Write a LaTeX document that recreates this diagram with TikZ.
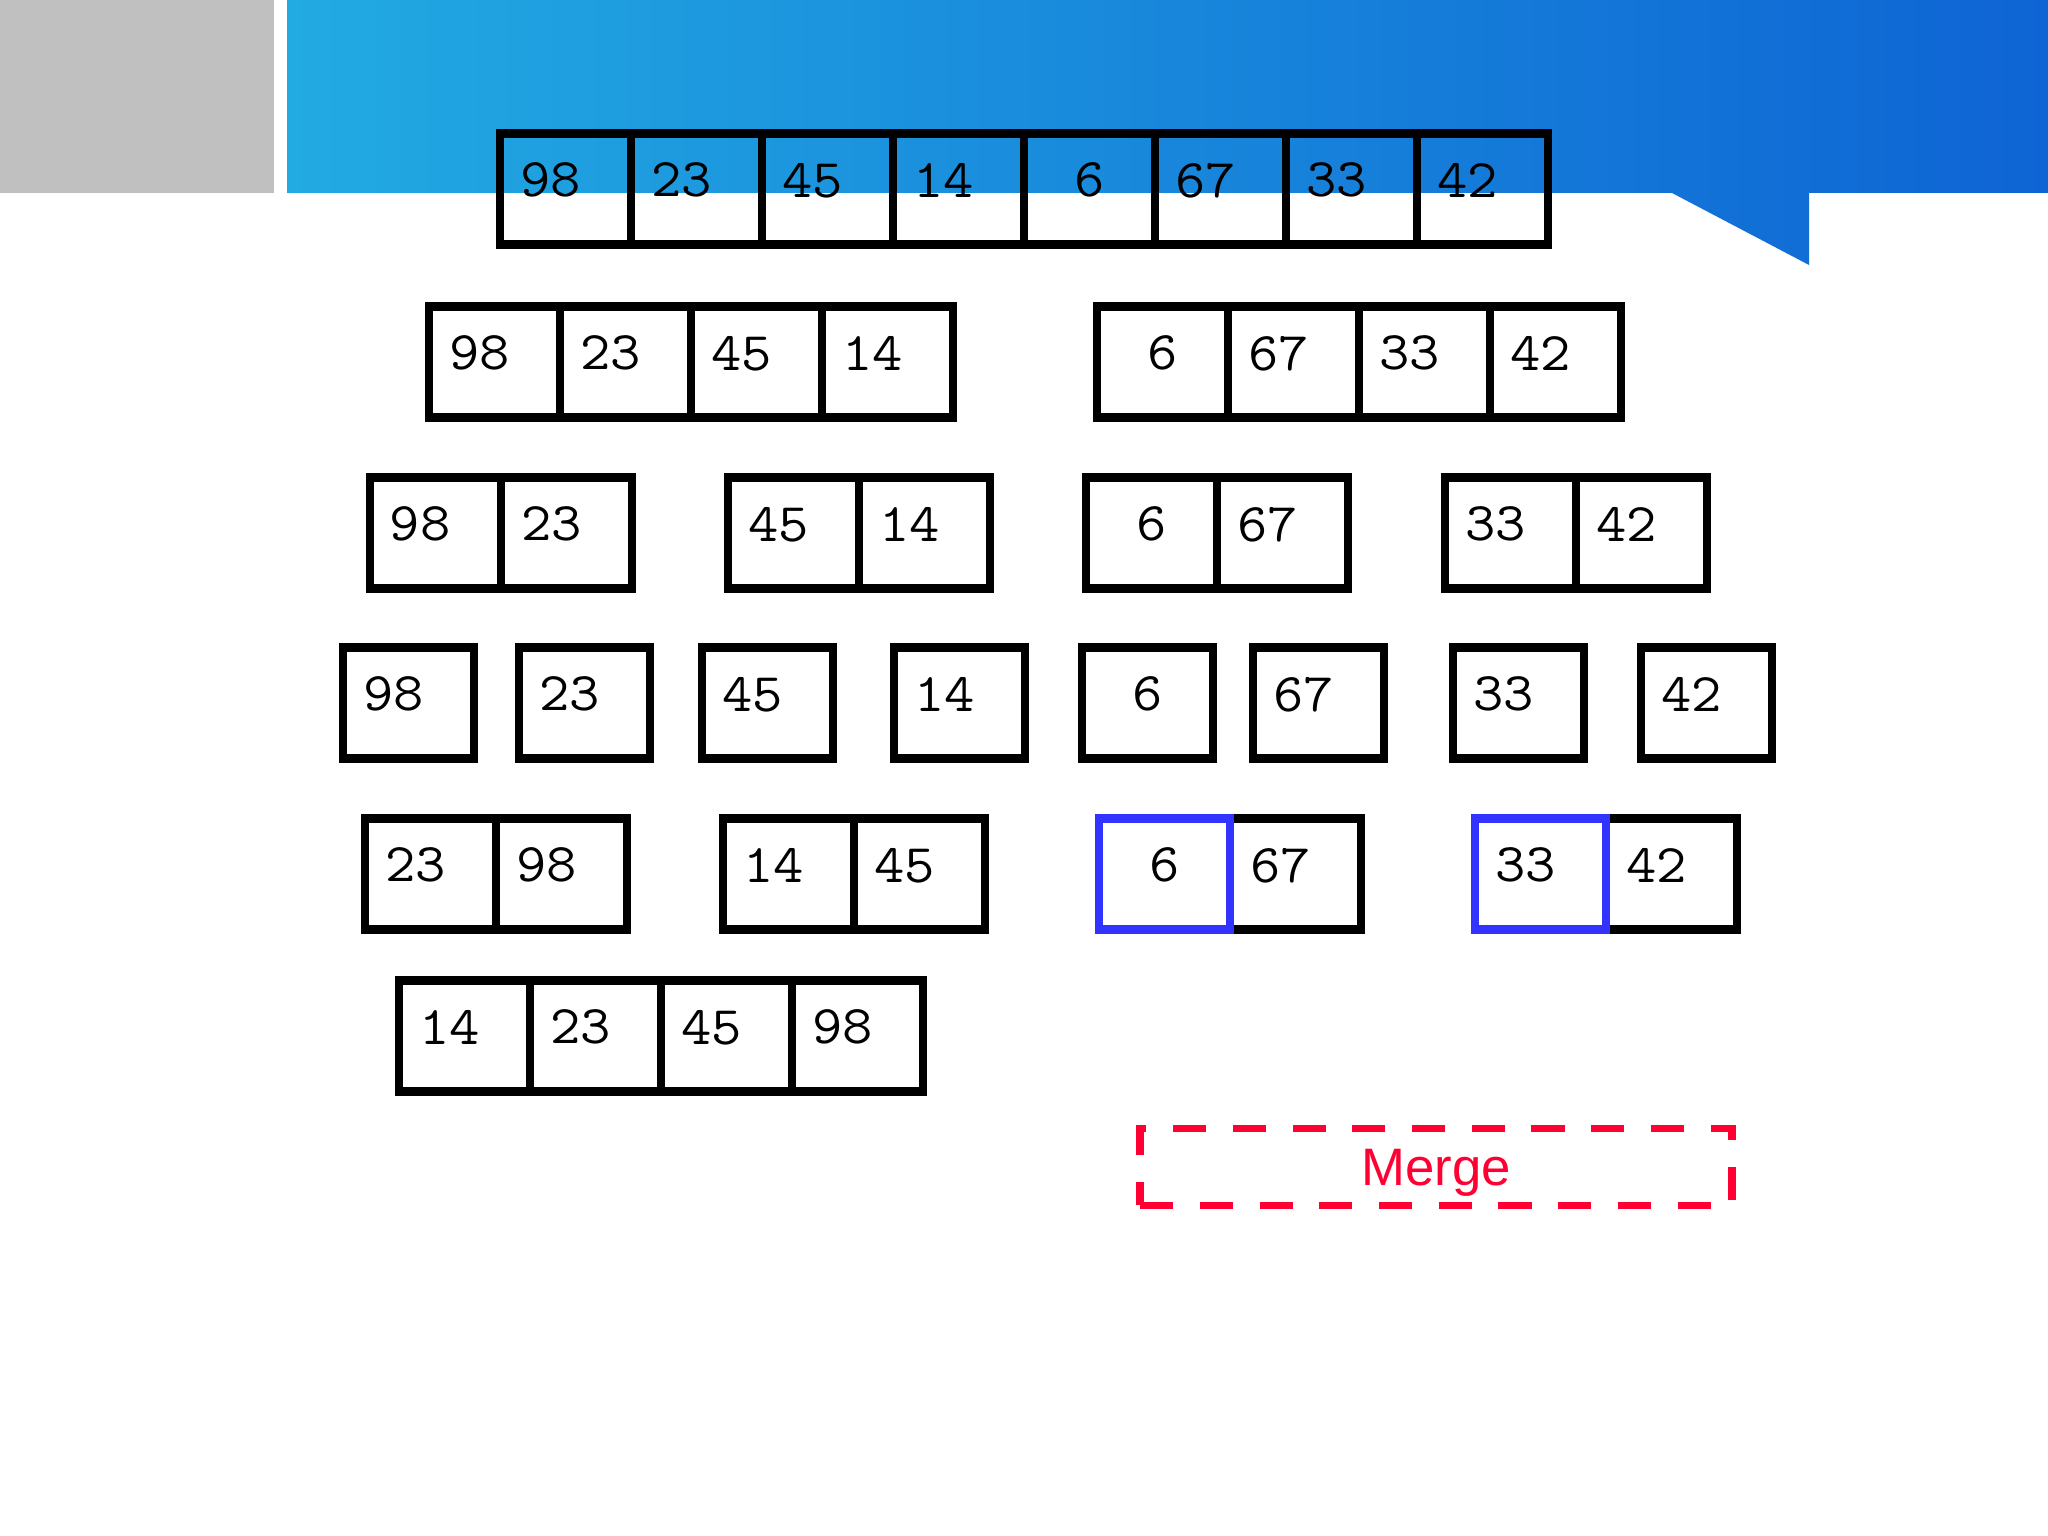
\documentclass[tikz,border=0pt]{standalone}
\usepackage{fontspec}
\usepackage{tikz}
\usetikzlibrary{positioning}
\newfontfamily\cellfont[FakeStretch=1.08]{Latin Modern Mono}
\newfontfamily\labelfont{Liberation Sans}
\definecolor{bannerlight}{RGB}{34,170,226}
\definecolor{bannermid}{RGB}{16,156,224}
\definecolor{bannerdark}{RGB}{14,100,212}
\definecolor{sidegray}{RGB}{192,192,192}
\definecolor{pickblue}{RGB}{51,51,255}
\definecolor{mergered}{RGB}{255,0,51}

\begin{document}
\begin{tikzpicture}[
        cell/.style={draw=black,line width=2.35pt,outer sep=0pt,minimum width=1.31cm,minimum height=1.11cm,
            inner xsep=0.2cm,inner ysep=0pt,text width=0.91cm,align=left,text depth=0.18cm,
            font=\cellfont\fontsize{15.5}{18}\selectfont},
        picked/.style={cell,draw=pickblue},
        mergebox/.style={draw=mergered,line width=2.1pt,dash pattern=on 9.4pt off 7.6pt,minimum width=5.92cm,
            minimum height=0.77cm,text=mergered,text depth=0pt,font=\labelfont\fontsize{15}{18}\selectfont}
    ]
        \useasboundingbox (0,0) rectangle (20.48,15.36);
        \fill[white] (0,0) rectangle (20.48,15.36);
        \fill[sidegray] (0,13.43) rectangle (2.74,15.36);
        \shade[left color=bannerlight,middle color=bannermid,right color=bannerdark] (2.87,13.43) -- (16.72,13.43)
            -- (18.09,12.71) -- (18.09,13.43) -- (20.48,13.43) -- (20.48,15.36) -- (2.87,15.36) -- cycle;

        \node[cell,anchor=west] (a1) at (5.00,13.47) {98};
        \node[cell,right=0pt of a1] (a2) {23};
        \node[cell,right=0pt of a2] (a3) {45};
        \node[cell,right=0pt of a3] (a4) {14};
        \node[cell,right=0pt of a4] (a5) {\hphantom{0}6};
        \node[cell,right=0pt of a5] (a6) {67};
        \node[cell,right=0pt of a6] (a7) {33};
        \node[cell,right=0pt of a7] (a8) {42};

        \node[cell,anchor=west] (b1) at (4.29,11.74) {98};
        \node[cell,right=0pt of b1] (b2) {23};
        \node[cell,right=0pt of b2] (b3) {45};
        \node[cell,right=0pt of b3] (b4) {14};
        \node[cell,anchor=west] (b5) at (10.97,11.74) {\hphantom{0}6};
        \node[cell,right=0pt of b5] (b6) {67};
        \node[cell,right=0pt of b6] (b7) {33};
        \node[cell,right=0pt of b7] (b8) {42};

        \node[cell,anchor=west] (c1) at (3.70,10.03) {98};
        \node[cell,right=0pt of c1] (c2) {23};
        \node[cell,anchor=west] (c3) at (7.28,10.03) {45};
        \node[cell,right=0pt of c3] (c4) {14};
        \node[cell,anchor=west] (c5) at (10.86,10.03) {\hphantom{0}6};
        \node[cell,right=0pt of c5] (c6) {67};
        \node[cell,anchor=west] (c7) at (14.45,10.03) {33};
        \node[cell,right=0pt of c7] (c8) {42};

        \node[cell,anchor=west] (d1) at (3.43,8.33) {98};
        \node[cell,anchor=west] (d2) at (5.19,8.33) {23};
        \node[cell,anchor=west] (d3) at (7.02,8.33) {45};
        \node[cell,anchor=west] (d4) at (8.94,8.33) {14};
        \node[cell,anchor=west] (d5) at (10.82,8.33) {\hphantom{0}6};
        \node[cell,anchor=west] (d6) at (12.53,8.33) {67};
        \node[cell,anchor=west] (d7) at (14.53,8.33) {33};
        \node[cell,anchor=west] (d8) at (16.41,8.33) {42};

        \node[cell,anchor=west] (e1) at (3.65,6.62) {23};
        \node[cell,right=0pt of e1] (e2) {98};
        \node[cell,anchor=west] (e3) at (7.23,6.62) {14};
        \node[cell,right=0pt of e3] (e4) {45};
        \node[cell,anchor=west] (e6) at (12.30,6.62) {67};
        \node[picked,left=0pt of e6] (e5) {\hphantom{0}6};
        \node[cell,anchor=west] (e8) at (16.06,6.62) {42};
        \node[picked,left=0pt of e8] (e7) {33};

        \node[cell,anchor=west] (f1) at (3.99,5.00) {14};
        \node[cell,right=0pt of f1] (f2) {23};
        \node[cell,right=0pt of f2] (f3) {45};
        \node[cell,right=0pt of f3] (f4) {98};

        \node[mergebox] (merge) at (14.36,3.69) {Merge};
    \end{tikzpicture}
\end{document}
